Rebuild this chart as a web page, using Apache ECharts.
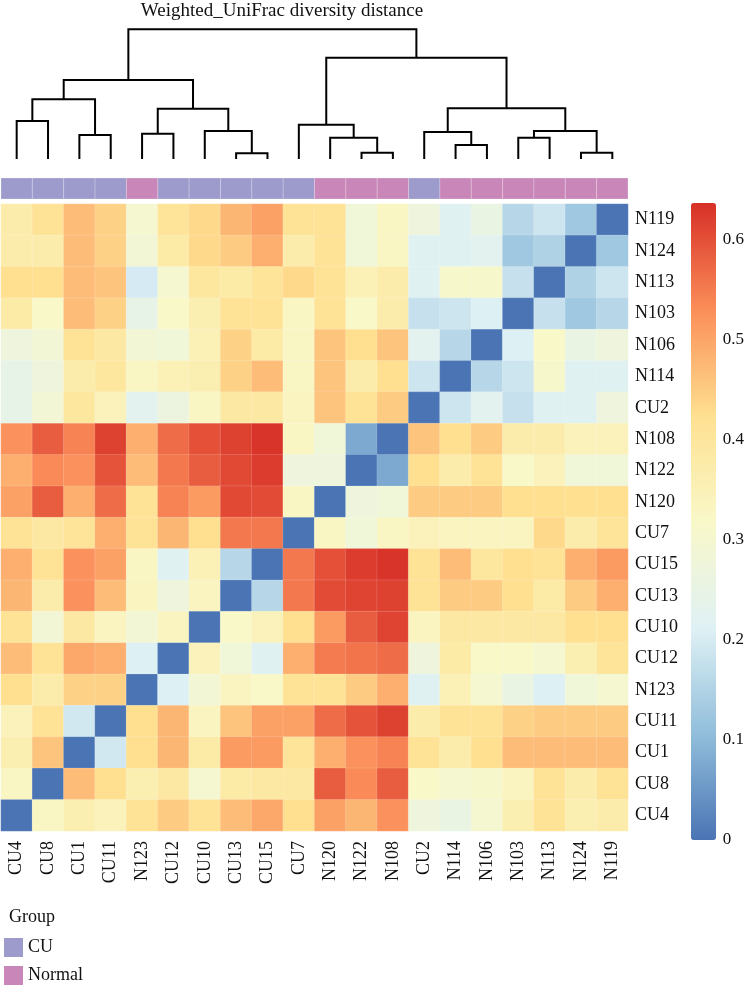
<!DOCTYPE html>
<html><head><meta charset="utf-8">
<script src="https://cdn.jsdelivr.net/npm/echarts@6/dist/echarts.min.js"></script>
<style>html,body{margin:0;padding:0;background:#fff}#c{width:747px;height:985px}</style>
</head><body><div id="c"></div>
<script>
// column order (left -> right)
const samples = ['CU4','CU8','CU1','CU11','N123','CU12','CU10','CU13','CU15','CU7','N120','N122','N108','CU2','N114','N106','N103','N113','N124','N119'];
// row order (top -> bottom)
const rowLabels = ['N119','N124','N113','N103','N106','N114','CU2','N108','N122','N120','CU7','CU15','CU13','CU10','CU12','N123','CU11','CU1','CU8','CU4'];
const groups = ['CU','CU','CU','CU','Normal','CU','CU','CU','CU','CU','Normal','Normal','Normal','CU','Normal','Normal','Normal','Normal','Normal','Normal'];
const groupNames = ['CU','Normal'];
const groupColors = ['#9d9bcc','#c987b9'];
const colorTicks = [0,0.1,0.2,0.3,0.4,0.5,0.6];
const scaleMax = 0.636;

// distance matrix rows (top -> bottom), columns in `samples` order
const distRows = [
 [0.371,0.415,0.469,0.442,0.299,0.407,0.433,0.478,0.505,0.415, 0.415,0.281,0.326,0.272,0.218,0.254,0.157,0.188,0.127,0],
 [0.371,0.371,0.469,0.442,0.290,0.380,0.433,0.451,0.487,0.371, 0.415,0.281,0.326,0.218,0.218,0.227,0.127,0.147,0,0.127],
 [0.424,0.424,0.469,0.460,0.198,0.299,0.398,0.380,0.407,0.433, 0.415,0.353,0.371,0.218,0.308,0.308,0.178,0,0.147,0.188],
 [0.380,0.317,0.469,0.442,0.245,0.317,0.362,0.415,0.415,0.326, 0.415,0.317,0.371,0.178,0.188,0.209,0,0.178,0.127,0.157],
 [0.272,0.290,0.415,0.389,0.290,0.281,0.353,0.442,0.380,0.326, 0.460,0.424,0.460,0.227,0.157,0,0.209,0.317,0.254,0.272],
 [0.245,0.272,0.371,0.398,0.326,0.353,0.362,0.442,0.469,0.326, 0.460,0.371,0.424,0.188,0,0.157,0.188,0.308,0.218,0.218],
 [0.245,0.290,0.398,0.344,0.227,0.263,0.326,0.389,0.389,0.334, 0.460,0.415,0.451,0,0.188,0.227,0.178,0.218,0.218,0.272],
 [0.523,0.586,0.541,0.617,0.487,0.568,0.599,0.617,0.631,0.326, 0.281,0.076,0,0.460,0.424,0.451,0.371,0.371,0.344,0.344],
 [0.487,0.532,0.523,0.595,0.469,0.554,0.586,0.608,0.622,0.272, 0.272,0,0.076,0.424,0.371,0.415,0.317,0.344,0.281,0.281],
 [0.505,0.586,0.487,0.568,0.415,0.541,0.514,0.608,0.604,0.326, 0,0.272,0.281,0.451,0.451,0.451,0.424,0.424,0.424,0.424],
 [0.415,0.389,0.407,0.487,0.415,0.478,0.424,0.554,0.554,0, 0.326,0.281,0.326,0.344,0.334,0.334,0.334,0.433,0.371,0.407],
 [0.487,0.415,0.523,0.505,0.326,0.218,0.353,0.157,0,0.554, 0.599,0.622,0.631,0.415,0.469,0.398,0.424,0.415,0.487,0.514],
 [0.478,0.371,0.523,0.469,0.334,0.272,0.334,0,0.157,0.554, 0.604,0.613,0.617,0.415,0.451,0.451,0.424,0.380,0.451,0.487],
 [0.415,0.290,0.389,0.334,0.290,0.334,0,0.317,0.344,0.424, 0.514,0.586,0.613,0.334,0.389,0.389,0.389,0.389,0.424,0.424],
 [0.469,0.415,0.496,0.487,0.209,0,0.344,0.281,0.218,0.487, 0.550,0.559,0.568,0.272,0.380,0.317,0.317,0.299,0.362,0.407],
 [0.424,0.371,0.442,0.442,0,0.209,0.290,0.334,0.317,0.415, 0.415,0.451,0.487,0.218,0.353,0.299,0.254,0.209,0.281,0.299],
 [0.344,0.415,0.193,0,0.424,0.478,0.334,0.460,0.505,0.505, 0.568,0.595,0.617,0.371,0.415,0.415,0.442,0.451,0.451,0.451],
 [0.362,0.460,0,0.193,0.424,0.478,0.380,0.514,0.514,0.407, 0.487,0.523,0.541,0.415,0.371,0.424,0.469,0.469,0.469,0.469],
 [0.326,0,0.469,0.424,0.362,0.389,0.299,0.380,0.389,0.389, 0.586,0.532,0.586,0.317,0.299,0.308,0.334,0.415,0.371,0.415],
 [0,0.326,0.362,0.344,0.415,0.451,0.415,0.469,0.496,0.424, 0.505,0.478,0.523,0.272,0.254,0.299,0.362,0.415,0.362,0.371]
];

// hierarchical clustering merges: [left, right, height]; strings = leaves, numbers = earlier merge index
const merges = [
 ['CU4','CU8',0.380],      //0
 ['CU1','CU11',0.240],     //1
 [0,1,0.597],              //2
 ['N123','CU12',0.253],    //3
 ['CU13','CU15',0.057],    //4
 ['CU10',4,0.280],         //5
 [3,5,0.503],              //6
 [2,6,0.790],              //7
 ['N122','N108',0.063],    //8
 ['N120',8,0.213],         //9
 ['CU7',9,0.343],          //10
 ['N114','N106',0.140],    //11
 ['CU2',11,0.270],         //12
 ['N103','N113',0.213],    //13
 ['N124','N119',0.063],    //14
 [13,14,0.280],            //15
 [12,15,0.507],            //16
 [10,16,1.013],            //17
 [7,17,1.297]              //18
];
const rootHeight = 1.297;

const FONT = "'Liberation Serif','DejaVu Serif',serif";
const palette = ['#4A74B4','#91BEDB','#DFF1F5','#F9F8C8','#FEE090','#FB8D59','#D73027'];

// dendrogram node layout
const nodePos = [];
function pos(ref){ return typeof ref === 'string' ? {x: samples.indexOf(ref), h: 0} : nodePos[ref]; }
merges.forEach((m,i)=>{ const a=pos(m[0]), b=pos(m[1]); nodePos[i] = {x:(a.x+b.x)/2, h:m[2], a, b}; });

const heatData = [];
distRows.forEach((row,r)=>row.forEach((v,c)=>heatData.push([c,r,v])));

const L = 1, W = 627;
const chart = echarts.init(document.getElementById('c'));
const groupSeries = groupNames.map((g,gi)=>({
  name: g, type: 'custom', xAxisIndex: 1, yAxisIndex: 1,
  itemStyle: {color: groupColors[gi]},
  data: samples.map((s,i)=>groups[i]===g ? [i,0] : null).filter(d=>d),
  renderItem: function(params, api){
    const p = api.coord([api.value(0), 0]);
    const sz = api.size([1,1]);
    return {type:'rect', shape:{x:p[0]-sz[0]/2, y:p[1]-sz[1]/2, width:sz[0], height:sz[1]},
      style:{fill: api.visual('color'), stroke:'rgba(255,255,255,0.35)', lineWidth:0.6}};
  }
}));

chart.setOption({
  animation: false,
  backgroundColor: '#fff',
  title: [
    {text: 'Weighted_UniFrac diversity distance', left: 277, top: -3, textAlign: 'center',
     textStyle: {fontFamily: FONT, fontSize: 19, fontWeight: 'normal', color: '#111'}},
    {text: 'Group', left: 4, top: 903,
     textStyle: {fontFamily: FONT, fontSize: 18, fontWeight: 'normal', color: '#111'}}
  ],
  legend: {
    data: groupNames, orient: 'vertical', left: 4, top: 938, itemWidth: 19, itemHeight: 19, itemGap: 9,
    icon: 'rect', selectedMode: false, padding: 0,
    textStyle: {fontFamily: FONT, fontSize: 18, color: '#111'}
  },
  grid: [
    {left: L, top: 204, width: W, height: 627},      // heatmap
    {left: L, top: 178, width: W, height: 21},       // group bar
    {left: L, top: 29.3, width: W, height: 129.7},   // dendrogram
    {left: 691, top: 203, width: 25, height: 637}    // colour bar axis
  ],
  xAxis: [
    {type:'category', data: samples, gridIndex:0, position:'bottom',
     axisLine:{show:false}, axisTick:{show:false}, splitLine:{show:false},
     axisLabel:{rotate:90, margin:10, fontFamily:FONT, fontSize:18, color:'#111', interval:0}},
    {type:'category', data: samples, gridIndex:1, show:false},
    {type:'value', gridIndex:2, min:-0.5, max:19.5, show:false},
    {type:'value', gridIndex:3, show:false, min:0, max:1}
  ],
  yAxis: [
    {type:'category', data: rowLabels, inverse:true, gridIndex:0, position:'right',
     axisLine:{show:false}, axisTick:{show:false}, splitLine:{show:false},
     axisLabel:{margin:7, fontFamily:FONT, fontSize:18, color:'#111', interval:0}},
    {type:'category', data:['group'], gridIndex:1, show:false},
    {type:'value', gridIndex:2, min:0, max:rootHeight, show:false},
    {type:'value', gridIndex:3, position:'right', min:0, max:scaleMax, interval:0.1,
     axisLine:{show:false}, axisTick:{show:false}, splitLine:{show:false},
     axisLabel:{margin:8, fontFamily:FONT, fontSize:17, color:'#111', showMaxLabel:false,
       formatter: v => { const t = colorTicks.find(x=>Math.abs(x-v)<1e-6); return t===undefined ? '' : String(t); }}}
  ],
  visualMap: {
    type:'continuous', seriesIndex:0, min:0, max:scaleMax, calculable:false, hoverLink:false,
    orient:'vertical', left:691, top:203, itemWidth:25, itemHeight:637, padding:0,
    inRange:{color: palette}
  },
  series: [
    {type:'heatmap', xAxisIndex:0, yAxisIndex:0, data: heatData,
     itemStyle:{borderColor:'rgba(255,255,255,0.3)', borderWidth:0.5}, emphasis:{disabled:true}},
    ...groupSeries,
    {type:'custom', name:'dendrogram', xAxisIndex:2, yAxisIndex:2, clip:false,
     data: nodePos.map(n=>[n.x, n.h]),
     renderItem: function(params, api){
       const n = nodePos[params.dataIndex];
       const p1 = api.coord([n.a.x, n.a.h]), p2 = api.coord([n.a.x, n.h]);
       const p3 = api.coord([n.b.x, n.h]), p4 = api.coord([n.b.x, n.b.h]);
       return {type:'polyline', shape:{points:[p1,p2,p3,p4]},
         style:{stroke:'#000', lineWidth:2, fill:null, lineJoin:'miter', lineCap:'butt'}};
     }},
    {type:'scatter', xAxisIndex:3, yAxisIndex:3, data:[], silent:true}
  ]
});
</script></body></html>
